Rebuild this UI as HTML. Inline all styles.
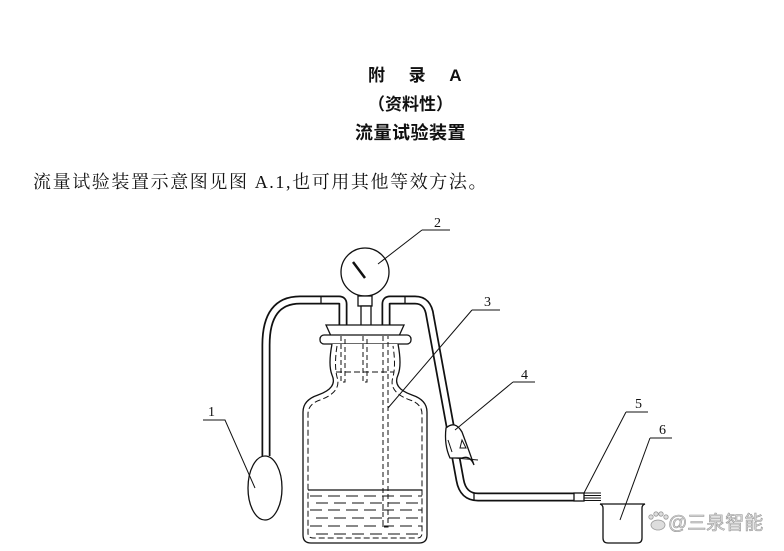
<!DOCTYPE html>
<html><head><meta charset="utf-8"><style>
html,body{margin:0;padding:0;background:#fff;}
body{width:784px;height:551px;overflow:hidden;position:relative;}
.t{position:absolute;font-family:"Liberation Sans","Noto Sans CJK SC",sans-serif;font-weight:bold;color:#111;white-space:nowrap;}
.b{position:absolute;left:33px;top:168px;font-family:"Liberation Serif","Noto Serif CJK SC",serif;font-size:18px;color:#111;white-space:nowrap;letter-spacing:1.6px;}
svg{position:absolute;left:0;top:0;}
</style></head><body>
<div class="t" style="left:368px;top:61px;font-size:17px;letter-spacing:0;">附&nbsp;&nbsp;&nbsp;&nbsp;&nbsp;录&nbsp;&nbsp;&nbsp;&nbsp;&nbsp;A</div>
<div class="t" style="left:368px;top:90px;font-size:17px;">（资料性）</div>
<div class="t" style="left:355px;top:119px;font-size:18px;letter-spacing:0.5px;">流量试验装置</div>
<div class="b">流量试验装置示意图见图 A.1,也可用其他等效方法。</div>
<svg width="784" height="551" viewBox="0 0 784 551" fill="none" stroke="#111" stroke-width="1.3">
<g stroke-linecap="butt" stroke-linejoin="round">
<path d="M343 332 V304 Q343 300 339 300 H300 Q266 300 266 345 V456" stroke="#111" stroke-width="9"/>
<path d="M343 332 V304 Q343 300 339 300 H300 Q266 300 266 345 V456" stroke="#fff" stroke-width="5.5"/>
<path d="M386 332 V304 Q386 300 390 300 H415 Q428 300 430 316 L460 480 Q463 497 478 497 H582" stroke="#111" stroke-width="9"/>
<path d="M386 332 V304 Q386 300 390 300 H415 Q428 300 430 316 L460 480 Q463 497 478 497 H582" stroke="#fff" stroke-width="5.5"/>
</g>
<line x1="321" y1="296" x2="321" y2="304"/><line x1="405" y1="296" x2="405" y2="304"/>
<line x1="474" y1="493" x2="474" y2="501"/>
<rect x="574" y="493" width="10" height="8" fill="#fff"/>
<path d="M584 493 H601 M584 495.5 H601 M584 498 H601 M584 500.5 H601" stroke-width="1"/>
<ellipse cx="265" cy="488" rx="17" ry="32" fill="#fff"/>
<circle cx="365" cy="272" r="24" fill="#fff"/>
<line x1="353" y1="262" x2="365" y2="278" stroke-width="2.5"/>
<rect x="358" y="296" width="14" height="10" fill="#fff"/>
<rect x="361" y="306" width="10" height="20" fill="#fff"/>
<path d="M326 325 H404 L399 336 H331 Z" fill="#fff"/>
<rect x="320" y="335" width="91" height="9" rx="4" fill="#fff"/>
<path d="M332 344 Q328 365 332 375 Q338 388 318 395 Q303 400 303 412 V535 Q303 543 311 543 H419 Q427 543 427 535 V412 Q427 400 412 395 Q392 388 398 375 Q402 365 398 344" fill="#fff"/>
<path d="M337 346 Q334 365 337 377 Q342 392 320 400 Q308 404 308 414 V533 Q308 538 313 538 H417 Q422 538 422 533 V414 Q422 404 410 400 Q388 392 393 377 Q396 365 393 346" stroke-dasharray="6 3" stroke-width="1"/>
<line x1="336" y1="372" x2="394" y2="372" stroke-dasharray="6 3" stroke-width="1"/>
<g stroke-dasharray="5 3" stroke-width="1">
<path d="M341 336 V382 H345 V336"/>
<path d="M363 336 V382 H367 V336"/>
<path d="M383 336 V527 H388 V336"/>
</g>
<line x1="308" y1="490" x2="422" y2="490" stroke-width="1.2"/>
<g stroke-dasharray="12 6" stroke-width="1">
<line x1="310" y1="496" x2="422" y2="496"/>
<line x1="316" y1="503" x2="422" y2="503"/>
<line x1="310" y1="510" x2="422" y2="510"/>
<line x1="316" y1="518" x2="422" y2="518"/>
<line x1="310" y1="526" x2="422" y2="526"/>
<line x1="316" y1="534" x2="422" y2="534"/>
</g>
<path d="M446 428 Q455 420 462 432 Q468 448 474 465 Q470 455 462 458 L450 458 Q444 445 446 428 Z" fill="#fff"/>
<path d="M448 440 L452 452 M462 440 L466 448 L460 448 Z M455 458 L478 460" stroke-width="1"/>
<path d="M600 504 Q603 505 603 508 V538 Q603 543 608 543 H637 Q642 543 642 538 V508 Q642 505 645 504 H600"/>
<g stroke-width="1">
<path d="M203 420 H225 L255 488"/>
<path d="M422 230 H450 M422 230 L378 264"/>
<path d="M472 310 H500 M472 310 L388 408"/>
<path d="M513 382 H535 M513 382 L455 430"/>
<path d="M626 412 H648 M626 412 L584 493"/>
<path d="M650 438 H672 M650 438 L620 520"/>
</g>
<g font-family="Liberation Serif,serif" font-size="14" fill="#111" stroke="none">
<text x="208" y="416">1</text>
<text x="434" y="227">2</text>
<text x="484" y="306">3</text>
<text x="521" y="379">4</text>
<text x="635" y="408">5</text>
<text x="659" y="434">6</text>
</g>
<g fill="#ddd" stroke="#999" stroke-width="0.8">
<ellipse cx="658" cy="525" rx="7" ry="5"/>
<circle cx="651" cy="517" r="2.2"/><circle cx="656" cy="514" r="2.2"/><circle cx="661" cy="514" r="2.2"/><circle cx="666" cy="517" r="2.2"/>
</g>
<text x="668" y="529" font-family="Liberation Sans,Noto Sans CJK SC,sans-serif" font-size="19" fill="#ddd" stroke="#999" stroke-width="0.6">@三泉智能</text>
</svg>
</body></html>
